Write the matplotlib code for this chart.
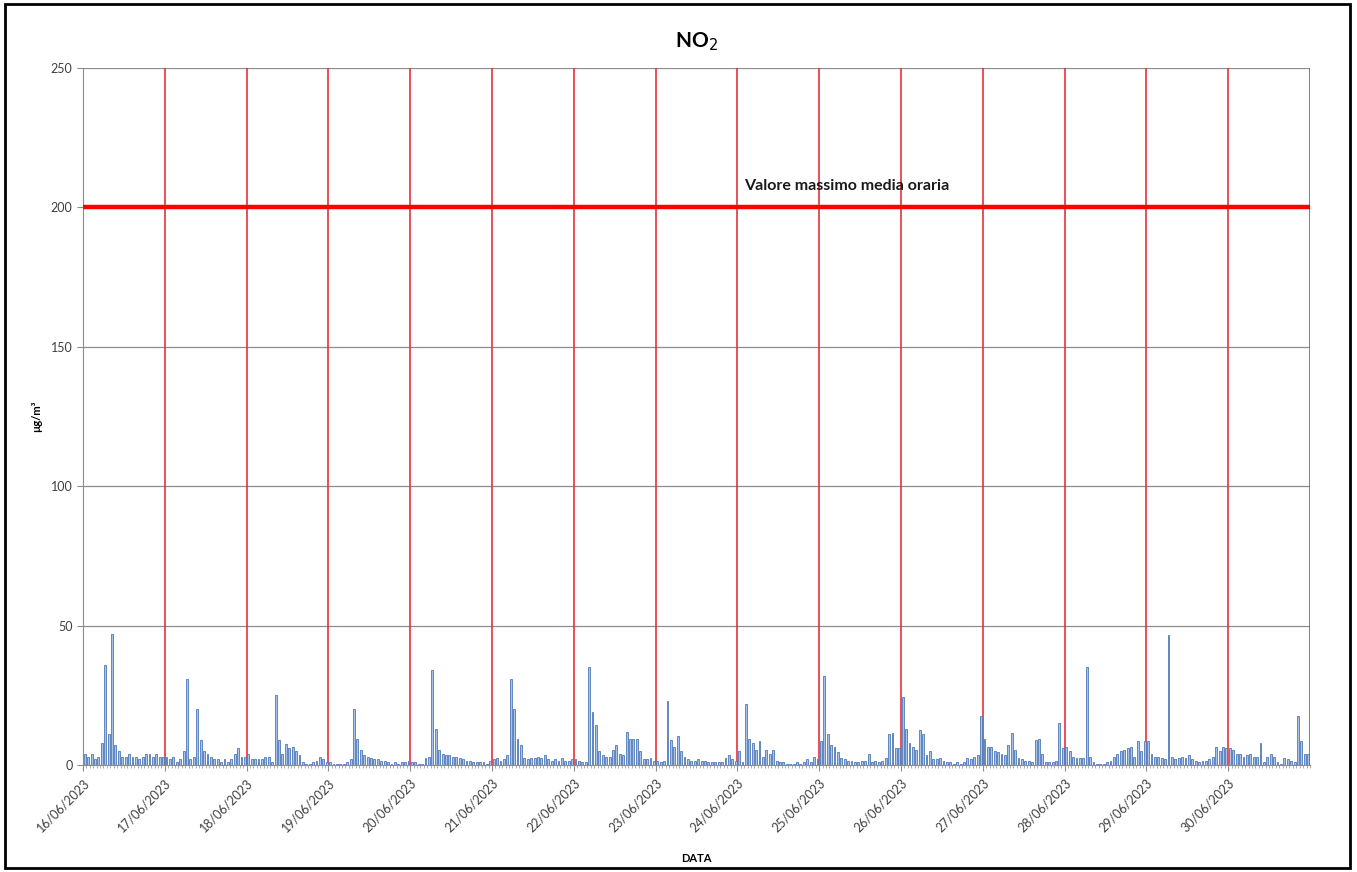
# NO2 hourly values, 16/06/2023 - 30/06/2023, with the 200 ug/m3 hourly limit
import matplotlib.pyplot as plt
import matplotlib.patches as mpatches
import numpy as np

plt.rcParams['font.family'] = ['Lato', 'DejaVu Sans']

# hourly values (ug/m3), one list per day, hours 0..23
d16 = [4, 3, 4, 2, 3, 8, 36, 11, 47, 7, 5, 3, 3, 4, 3, 3, 2, 3, 4, 4, 3, 4, 3, 3]
d17 = [3, 2, 3, 1, 2, 5, 31, 2, 3, 20, 9, 5, 4, 3, 2, 2, 1, 2, 1, 2, 4, 6, 3, 3]
d18 = [4, 2, 2, 2, 2, 3, 3, 1, 25, 9, 4, 7.5, 6, 6.5, 5, 3.5, 1, 0.5, 0.5, 1, 1.5, 3, 2, 1]
d19 = [1, 0.5, 0.5, 0.5, 0.5, 1, 2, 20, 9.5, 5.5, 3.5, 3, 2.5, 2, 2, 1.5, 1.5, 1, 0.5, 1, 0.5, 1, 1, 1.5]
d20 = [1, 1, 0.5, 0.5, 2.5, 3, 34, 13, 5.5, 4, 3.5, 3.5, 3, 3, 2.5, 2, 1.5, 1.5, 1, 1, 1, 1, 0.5, 1.5]
d21 = [2, 2.5, 1.5, 2, 3.5, 31, 20, 9.5, 7, 2.5, 2, 2.5, 2.5, 3, 2.5, 3.5, 2, 1.5, 2, 1.5, 2.5, 1.5, 1.5, 2]
d22 = [2, 1.5, 1, 1, 35, 19, 14.5, 5, 3.5, 3, 3, 5.5, 7, 4, 3.5, 12, 9.5, 9.5, 9.5, 5, 2, 2, 2.5, 1.5]
d23 = [1.5, 1, 1.5, 23, 9, 6.5, 10.5, 5, 3, 2, 1.5, 1.5, 2, 1.5, 1.5, 1, 1, 1, 1, 1, 2.5, 3.5, 2, 1.5]
d24 = [5, 1, 22, 9.5, 8, 5.5, 8.5, 3, 5.5, 4, 5.5, 1.5, 1, 1, 0.5, 0.5, 0.5, 1, 0.5, 1, 2, 1, 3, 2]
d25 = [8.5, 32, 11, 7, 6.5, 4.5, 2.5, 2, 1.5, 1.5, 1, 1, 1.5, 1.5, 4, 1, 1.5, 1, 1.5, 2.5, 11, 11.5, 6, 6]
d26 = [24.5, 13, 8, 6.5, 5.5, 12.5, 11, 3.5, 5, 2, 2, 2.5, 1.5, 1, 1, 0.5, 1, 0.5, 1, 2.5, 2, 3, 3.5, 17.5]
d27 = [9.5, 6.5, 6.5, 5, 4.5, 4, 3.5, 7, 11.5, 5.5, 2.5, 2, 1.5, 1.5, 1, 9, 9.5, 4, 1, 1, 1, 1.5, 15, 6]
d28 = [6.5, 5, 3, 2.5, 2.5, 2.5, 35, 3, 1, 0.5, 0.5, 0.5, 1, 1.5, 3, 4, 5, 5.5, 6, 6.5, 3, 8.5, 5, 8.5]
d29 = [8.5, 4, 3, 3, 2.5, 2, 46.5, 3, 2, 2.5, 3, 2.5, 3.5, 2, 1.5, 1, 1.5, 1.5, 2, 3, 6.5, 5, 6.5, 6]
d30 = [6, 5.5, 4, 4, 3, 3.5, 4, 3, 3, 8, 1, 3, 4, 3, 1, 0.5, 2.5, 2, 1.5, 1, 17.5, 8.5, 4, 4]

dates = ['16/06/2023', '17/06/2023', '18/06/2023', '19/06/2023', '20/06/2023',
         '21/06/2023', '22/06/2023', '23/06/2023', '24/06/2023', '25/06/2023',
         '26/06/2023', '27/06/2023', '28/06/2023', '29/06/2023', '30/06/2023']
limit = 200
limit_text = 'Valore massimo media oraria'

values = np.array(d16 + d17 + d18 + d19 + d20 + d21 + d22 + d23 + d24 + d25
                  + d26 + d27 + d28 + d29 + d30)
hours = np.arange(len(values))
ndays = len(dates)

fig = plt.figure(figsize=(13.57, 8.72), dpi=100)
ax = fig.add_axes([0.0612, 0.1227, 0.9041, 0.7993])

# grid
for y in range(50, 251, 50):
    ax.axhline(y, color='#8c8c8c', lw=0.9, zorder=0)

# day separators
for d in range(1, ndays + 1):
    ax.axvline(d * 24, color='#e8303c', lw=1.2, zorder=1)

ax.bar(hours + 0.5, values, width=0.55, color='#a7c3ea', edgecolor='#4f78b8',
       lw=0.6, zorder=2)

ax.axhline(limit, color='#ff0000', lw=3.2, zorder=3)
ax.text(194, limit + 5, limit_text, fontsize=11.5, fontweight='bold',
        color='#1a1a1a', va='bottom', ha='left')

ax.set_xlim(0, ndays * 24)
ax.set_ylim(0, 250)
ax.set_yticks(range(0, 251, 50))
ax.set_xticks(np.arange(ndays) * 24)
ax.set_xticklabels(dates, rotation=45, ha='right', rotation_mode='anchor',
                   fontsize=9, color='#404040')
ax.set_xticks(np.arange(0, ndays * 24 + 1, 1), minor=True)
ax.tick_params(axis='y', labelsize=9, labelcolor='#404040', color='#8c8c8c',
               length=4)
ax.tick_params(axis='x', which='major', color='#8c8c8c', length=4, pad=4)
ax.tick_params(axis='x', which='minor', color='#a0a0a0', length=2)

for s in ['top', 'right']:
    ax.spines[s].set_visible(False)
ax.spines['left'].set_color('#8c8c8c')
ax.spines['bottom'].set_color('#8c8c8c')

ax.set_title('NO$_2$', fontsize=15, fontweight='bold', pad=15)
ax.set_xlabel('DATA', fontsize=8, fontweight='bold', labelpad=14)
ax.set_ylabel('µg/m³', fontsize=8, fontweight='bold', labelpad=6)

# outer frame
fig.patches.append(mpatches.Rectangle((0.004, 0.005), 0.991, 0.99,
                                      transform=fig.transFigure, fill=False,
                                      ec='black', lw=2))

fig.savefig('out.png', dpi=100)
